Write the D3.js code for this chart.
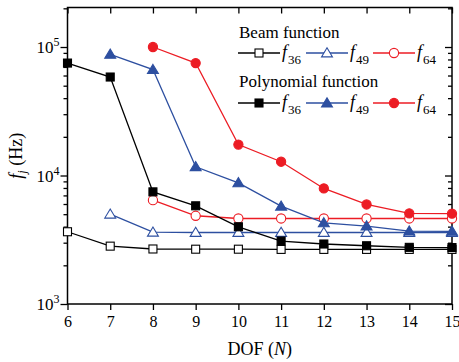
<!DOCTYPE html>
<html><head><meta charset="utf-8">
<script src="https://cdn.jsdelivr.net/npm/d3@7"></script>
<style>
body{margin:0;background:#fff;}
svg{display:block;font-family:"Liberation Serif","Times New Roman",serif;}
</style></head>
<body><svg id="c" width="459" height="362"></svg>
<script>
const dof = [6,7,8,9,10,11,12,13,14,15];
const xTicks = [6,7,8,9,10,11,12,13,14,15];
const yMajor = [1e3,1e4,1e5];
const yMajorExp = [3,4,5];
// Beam function
const beamF36 = [[6,3650],[7,2820],[8,2680],[9,2670],[10,2670],[11,2660],[12,2660],[13,2660],[14,2660],[15,2660]];
const beamF49 = [[7,5000],[8,3620],[9,3600],[10,3600],[11,3600],[12,3600],[13,3600],[14,3600],[15,3600]];
const beamF64 = [[8,6430],[9,4860],[10,4630],[11,4630],[12,4630],[13,4630],[14,4630],[15,4630]];
// Polynomial function
const polyF36 = [[6,75000],[7,58400],[8,7460],[9,5810],[10,3990],[11,3090],[12,2930],[13,2840],[14,2760],[15,2750]];
const polyF49 = [[7,87700],[8,66700],[9,11700],[10,8770],[11,5770],[12,4280],[13,4040],[14,3690],[15,3680]];
const polyF64 = [[8,100000],[9,75000],[10,17400],[11,12800],[12,7930],[13,5950],[14,5070],[15,5050]];

const BLACK="#000000", BLUE="#2d4fa0", RED="#ec1c24";
const series = [
  {name:"36", data:beamF36, color:BLACK, marker:"square", open:true},
  {name:"49", data:beamF49, color:BLUE, marker:"triangle", open:true},
  {name:"64", data:beamF64, color:RED, marker:"circle", open:true},
  {name:"36", data:polyF36, color:BLACK, marker:"square", open:false},
  {name:"49", data:polyF49, color:BLUE, marker:"triangle", open:false},
  {name:"64", data:polyF64, color:RED, marker:"circle", open:false}
];

const svg = d3.select("#c");
const L=67.5, R=452, T=7.5, B=304;
const x = d3.scaleLinear().domain([6,15]).range([L,R]);
const y = d3.scaleLog().domain([1e3, 2.03e5]).range([B,T]);

const minors=[];
[1e3,1e4,1e5].forEach(d=>{for(let k=2;k<=9;k++){const v=d*k; if(v<2.03e5) minors.push(v);}});

const fs = 16;
const gL = svg.append("g").attr("transform",`translate(${L},0)`);
gL.call(d3.axisLeft(y).tickValues(minors).tickSize(4).tickFormat(""));
gL.append("g").call(d3.axisLeft(y).tickValues(yMajor).tickSize(7).tickFormat(""));
gL.selectAll("path").remove();
gL.selectAll("line").attr("stroke","#000").attr("stroke-width",1.3);
yMajor.forEach((v,i)=>{
  const t = svg.append("text").attr("x",L-8).attr("y",y(v)+6).attr("text-anchor","end")
    .attr("font-size",17).attr("fill","#000");
  t.append("tspan").text("10");
  t.append("tspan").attr("dy",-7).attr("font-size",12).text(yMajorExp[i]);
});
const gR = svg.append("g").attr("transform",`translate(${R},0)`);
gR.call(d3.axisLeft(y).tickValues(minors).tickSize(4).tickFormat(""));
gR.append("g").call(d3.axisLeft(y).tickValues(yMajor).tickSize(7).tickFormat(""));
gR.selectAll("path").remove();
gR.selectAll("line").attr("stroke","#000").attr("stroke-width",1.3);

const gB = svg.append("g").attr("transform",`translate(0,${B})`);
gB.call(d3.axisBottom(x).tickValues(xTicks).tickSize(6).tickPadding(6));
gB.select("path").remove();
gB.selectAll("line").attr("stroke","#000").attr("stroke-width",1.3);
gB.selectAll("text").attr("font-size",fs).attr("font-family","Liberation Serif").attr("fill","#000");
const gT = svg.append("g").attr("transform",`translate(0,${T})`);
gT.call(d3.axisBottom(x).tickValues(xTicks).tickSize(6).tickFormat(""));
gT.select("path").remove();
gT.selectAll("line").attr("stroke","#000").attr("stroke-width",1.3);

svg.append("rect").attr("x",L).attr("y",T).attr("width",R-L).attr("height",B-T)
  .attr("fill","none").attr("stroke","#000").attr("stroke-width",1.5);

const xt = svg.append("text").attr("x",(L+R)/2).attr("y",355).attr("text-anchor","middle").attr("font-size",18).attr("fill","#000");
xt.append("tspan").text("DOF (");
xt.append("tspan").attr("font-style","italic").text("N");
xt.append("tspan").text(")");
const yt = svg.append("text").attr("transform",`translate(22,${(T+B)/2}) rotate(-90)`).attr("text-anchor","middle").attr("font-size",18).attr("fill","#000");
yt.append("tspan").attr("font-style","italic").text("f");
yt.append("tspan").attr("font-style","italic").attr("font-size",12).attr("dy",4).text("j");
yt.append("tspan").attr("dy",-4).text(" (Hz)");

function drawMarker(g, type, cx, cy, color, open){
  const fill = open ? "#fff" : color;
  if(type==="square"){
    g.append("rect").attr("x",cx-4).attr("y",cy-4).attr("width",8).attr("height",8)
      .attr("fill",fill).attr("stroke",color).attr("stroke-width",1.1);
  } else if(type==="circle"){
    g.append("circle").attr("cx",cx).attr("cy",cy).attr("r",4.6)
      .attr("fill",fill).attr("stroke",color).attr("stroke-width",1.1);
  } else {
    const s=5.2;
    g.append("path").attr("d",`M${cx},${cy-s}L${cx+s*1.05},${cy+s*0.75}L${cx-s*1.05},${cy+s*0.75}Z`)
      .attr("fill",fill).attr("stroke",color).attr("stroke-width",1.1);
  }
}

const line = d3.line().x(d=>x(d[0])).y(d=>y(d[1]));
const plot = svg.append("g");
series.forEach(s=>{
  const g = plot.append("g");
  g.append("path").attr("d",line(s.data)).attr("fill","none").attr("stroke",s.color).attr("stroke-width",1.3);
  s.data.forEach(d=>drawMarker(g,s.marker,x(d[0]),y(d[1]),s.color,s.open));
});

const leg = svg.append("g");
leg.append("text").attr("x",239).attr("y",38).attr("font-size",17).attr("fill","#000").text("Beam function");
leg.append("text").attr("x",239).attr("y",87).attr("font-size",17).attr("fill","#000").text("Polynomial function");
const legX = [238, 306, 373];
[[0,1,2,53],[3,4,5,103]].forEach(row=>{
  const yy=row[3];
  [0,1,2].forEach(j=>{
    const s=series[row[j]];
    const x0=legX[j];
    leg.append("line").attr("x1",x0).attr("x2",x0+42).attr("y1",yy).attr("y2",yy).attr("stroke",s.color).attr("stroke-width",1.3);
    drawMarker(leg,s.marker,x0+21,yy,s.color,s.open);
    const t=leg.append("text").attr("x",x0+44).attr("y",yy+5).attr("font-size",18).attr("fill","#000");
    t.append("tspan").attr("font-style","italic").text("f");
    t.append("tspan").attr("font-size",13).attr("dy",6).attr("dx",1).text(s.name);
  });
});
</script></body></html>
